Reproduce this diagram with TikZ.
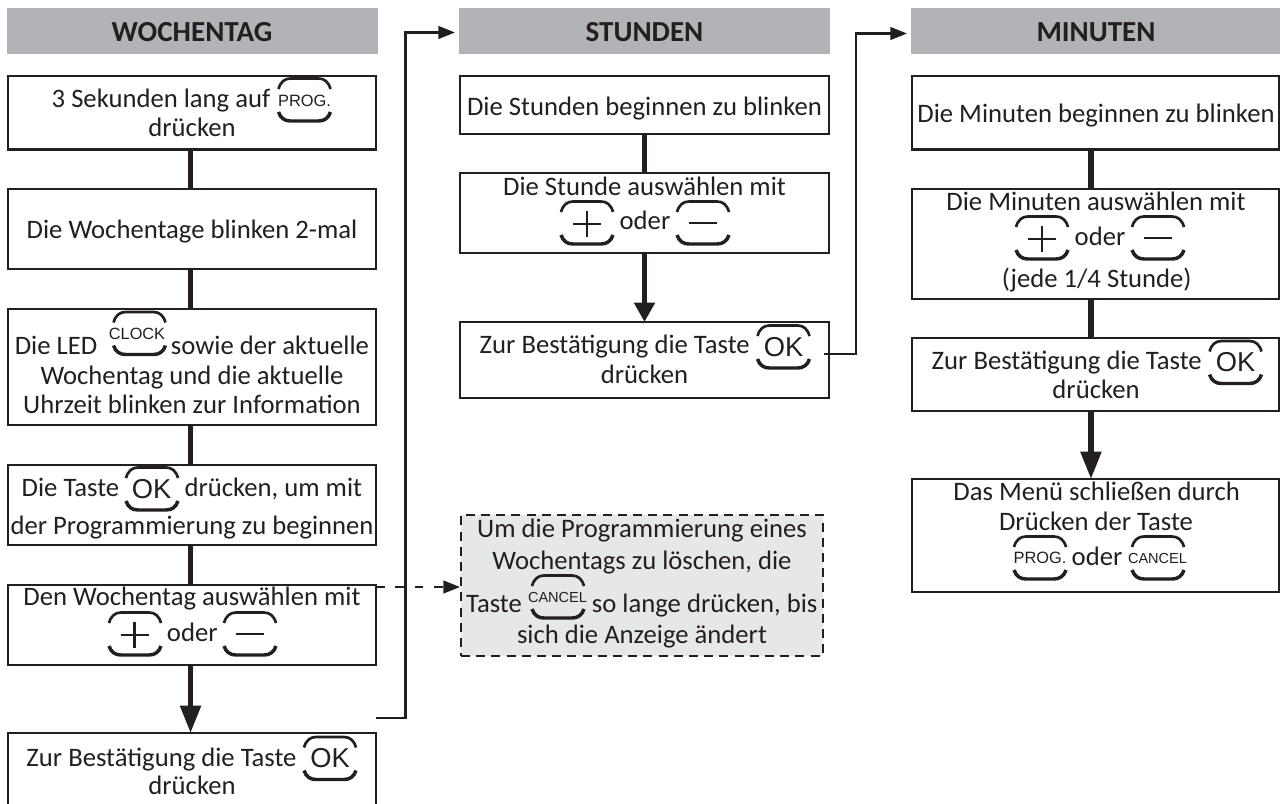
\documentclass[tikz,border=0pt]{standalone}
\usepackage{fontspec}
\setmainfont{Carlito}
\newfontfamily\keyfont{Liberation Sans}
\usetikzlibrary{arrows.meta}
\definecolor{ink}{HTML}{231F20}
\definecolor{headgray}{HTML}{B1B3B6}
\definecolor{notegray}{HTML}{E6E7E8}
\newcommand{\tline}[3]{\pgfmathsetlengthmacro{\tlr}{(\bcy-#2)*0.75}\pgfmathsetlengthmacro{\tld}{(#1-\bcx)*1.5}\raisebox{\tlr}[0pt][0pt]{\makebox[0pt]{\hspace{\tld}#3}}}
\newcommand{\mybox}[7][flowbox]{\pgfmathsetmacro{\bcx}{(#3+#5)/2}\pgfmathsetmacro{\bcy}{(#4+#6)/2}\pgfmathsetlengthmacro{\bw}{(#5-#3)*0.75}\pgfmathsetlengthmacro{\bh}{(#6-#4)*0.75}\node[#1,minimum width=\bw,minimum height=\bh] (#2) at (\bcx,\bcy) {#7};}
\newcommand{\keycap}[2]{\begin{scope}[shift={(#1,#2)}]
\draw[keytop] (-26,-11) .. controls (-24,-18) and (-20,-21.5) .. (-14,-21.5) -- (14,-21.5) .. controls (20,-21.5) and (24,-18) .. (26,-11);
\draw[keybot] (-26,12) .. controls (-24,18) and (-20,21) .. (-14,21) -- (14,21) .. controls (20,21) and (24,18) .. (26,12);
\end{scope}}
\newcommand{\plusmark}[2]{\begin{scope}[shift={(#1,#2)}]\draw[keysign] (-14,1) -- (14,1) (0,-12) -- (0,14);\end{scope}}
\newcommand{\minusmark}[2]{\begin{scope}[shift={(#1,#2)}]\draw[keysign] (-14,0) -- (14,0);\end{scope}}
\tikzset{
 x=0.75pt,y=-0.75pt,
 flowbox/.style={draw=ink,line width=1.9pt,fill=white,inner sep=0pt,outer sep=0pt,text=ink,font=\fontsize{20}{24}\selectfont},
 notebox/.style={flowbox,fill=notegray,line width=1.5pt,dash pattern=on 6.8pt off 4.6pt},
 headbox/.style={fill=headgray,inner sep=0pt,outer sep=0pt,text=ink,font=\fontsize{21.8}{26}\selectfont\bfseries},
 keytop/.style={ink,line width=2pt,line cap=butt},
 keybot/.style={ink,line width=2.6pt,line cap=butt},
 keysign/.style={ink,line width=2pt},
 oklabel/.style={anchor=base,inner sep=0pt,text=ink,font=\keyfont\fontsize{20.5}{22}\selectfont},
 proglabel/.style={anchor=base,inner sep=0pt,text=ink,font=\keyfont\fontsize{12.3}{13}\selectfont},
 clocklabel/.style={anchor=base,inner sep=0pt,text=ink,font=\keyfont\fontsize{12.2}{13}\selectfont},
 cancellabel/.style={anchor=base,inner sep=0pt,text=ink,font=\keyfont\fontsize{10.9}{12}\selectfont},
 stem/.style={draw=ink,line width=3.9pt},
 bigarrow/.style={stem,-{Triangle[length=#1,width=15pt,fill=ink]}},
 thinarrow/.style={draw=ink,line width=1.7pt,-{Triangle[length=12.5pt,width=9.5pt,fill=ink]}},
 dasharrow/.style={thinarrow,dash pattern=on 6.5pt off 8pt},
}
\begin{document}
\begin{tikzpicture}
\clip (0,0) rectangle (1280,803);
\fill[white] (0,0) rectangle (1280,803);
% headers
\mybox[headbox]{h1}{7}{8}{378}{54}{\tline{192}{41.7}{WOCHENTAG}}
\mybox[headbox]{h2}{459}{8}{830}{54}{\tline{644.5}{41.7}{STUNDEN}}
\mybox[headbox]{h3}{911}{8}{1282}{54}{\tline{1096}{41.7}{MINUTEN}}
% column 1
\mybox{b1}{8}{76}{376}{149.5}{\tline{161}{107.5}{3 Sekunden lang auf}\tline{192}{136}{drücken}}
\mybox{b2}{8}{189}{376}{269}{\tline{192}{238}{Die Wochentage blinken 2-mal}}
\mybox{b3}{8}{309}{376}{425}{\tline{56}{354.5}{Die LED}\tline{270}{354.5}{sowie der aktuelle}\tline{192}{384.5}{Wochentag und die aktuelle}\tline{192}{413}{Uhrzeit blinken zur Information}}
\mybox{b4}{8}{465}{376}{545}{\tline{70.5}{496}{Die Taste}\tline{273.3}{496}{drücken, um mit}\tline{192}{534}{der Programmierung zu beginnen}}
\mybox{b5}{8}{585}{376}{665}{\tline{192}{605}{Den Wochentag auswählen mit}\tline{192.3}{641.5}{oder}}
\mybox{b6}{8}{733}{376}{815}{\tline{161.5}{766}{Zur Bestätigung die Taste}\tline{192}{794}{drücken}}
% column 2
\mybox{s1}{460}{76}{829}{134}{\tline{644.5}{115}{Die Stunden beginnen zu blinken}}
\mybox{s2}{460}{173}{829}{253}{\tline{644.5}{195}{Die Stunde auswählen mit}\tline{645}{229}{oder}}
\mybox{s3}{460}{322}{829}{398}{\tline{614.7}{353}{Zur Bestätigung die Taste}\tline{644.5}{383}{drücken}}
\mybox[notebox]{d1}{461}{515}{823}{656}{\tline{642}{537}{Um die Programmierung eines}\tline{642}{569}{Wochentags zu löschen, die}\tline{494}{612}{Taste}\tline{704.7}{612}{so lange drücken, bis}\tline{642}{643}{sich die Anzeige ändert}}
% column 3
\mybox{m1}{912}{76}{1279.5}{149.5}{\tline{1096}{122.7}{Die Minuten beginnen zu blinken}}
\mybox{m2}{912}{189}{1279.5}{299}{\tline{1096}{210}{Die Minuten auswählen mit}\tline{1100}{245}{oder}\tline{1096.7}{287}{(jede 1/4 Stunde)}}
\mybox{m3}{912}{338}{1279.5}{411}{\tline{1066.7}{369}{Zur Bestätigung die Taste}\tline{1096}{398}{drücken}}
\mybox{m4}{912}{479}{1279.5}{592}{\tline{1096.7}{500}{Das Menü schließen durch}\tline{1096}{530}{Drücken der Taste}\tline{1097}{565}{oder}}
% key symbols
\keycap{304.5}{100}\node[proglabel] (kp1) at (304.5,106) {PROG.};
\keycap{139.5}{333.5}\node[clocklabel] (kc1) at (137,339.3) {CLOCK};
\keycap{152}{489}\node[oklabel] (ko1) at (151.7,498) {OK};
\keycap{135}{634}\plusmark{134.5}{634}
\keycap{250}{634}\minusmark{249.5}{634}
\keycap{330}{758.5}\node[oklabel] (ko2) at (330,767) {OK};
\keycap{587}{223}\plusmark{587}{223}
\keycap{703}{223}\minusmark{703}{223}
\keycap{783.5}{347}\node[oklabel] (ko3) at (783.5,356) {OK};
\keycap{558}{597}\node[cancellabel] (kx1) at (557.5,602) {CANCEL};
\keycap{1042}{238}\plusmark{1042}{238}
\keycap{1158}{238}\minusmark{1158}{238}
\keycap{1235.5}{362.5}\node[oklabel] (ko4) at (1235.5,371) {OK};
\keycap{1040}{558}\node[proglabel] (kp2) at (1040,563) {PROG.};
\keycap{1158}{558}\node[cancellabel] (kx2) at (1157.5,563) {CANCEL};
% connectors
\draw[stem] ([xshift=-1.1pt]b1.south) -- ([xshift=-1.1pt]b2.north);
\draw[stem] ([xshift=-1.1pt]b2.south) -- ([xshift=-1.1pt]b3.north);
\draw[stem] ([xshift=-1.1pt]b3.south) -- ([xshift=-1.1pt]b4.north);
\draw[stem] ([xshift=-1.1pt]b4.south) -- ([xshift=-1.1pt]b5.north);
\draw[bigarrow=20.5pt] ([xshift=-1.1pt]b5.south) -- ([xshift=-1.1pt]b6.north);
\draw[stem] (s1.south) -- (s2.north);
\draw[bigarrow=14.5pt] (s2.south) -- (s3.north);
\draw[stem] ([xshift=-3.6pt]m1.south) -- ([xshift=-3.6pt]m2.north);
\draw[stem] ([xshift=-3.6pt]m2.south) -- ([xshift=-3.6pt]m3.north);
\draw[bigarrow=20.5pt] ([xshift=-3.6pt]m3.south) -- ([xshift=-3.6pt]m4.north);
\coordinate (o1) at (376,718);
\coordinate (c1) at (405.5,718);
\coordinate (c2) at (405.5,32.5);
\coordinate (t1) at (455,32.5);
\draw[thinarrow] (o1) -- (c1) -- (c2) -- (t1);
\coordinate (o2) at (824,354);
\coordinate (c3) at (856,354);
\coordinate (c4) at (856,33.5);
\coordinate (t2) at (907,33.5);
\draw[thinarrow] (o2) -- (c3) -- (c4) -- (t2);
\coordinate (o3) at (376,587);
\coordinate (t3) at (460,587);
\draw[dasharrow] (o3) -- (t3);
\end{tikzpicture}
\end{document}
